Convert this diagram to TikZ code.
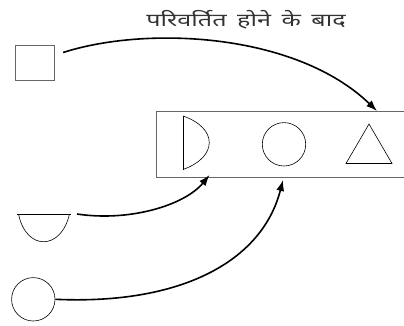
\documentclass[tikz,border=0pt]{standalone}
\usepackage{fontspec}
\newfontfamily\deva[Script=Devanagari,WordSpace=1.6]{Noto Sans}
\usetikzlibrary{arrows.meta}
\tikzset{
  grayline/.style={draw=black!60, line width=0.9pt},
  shapeline/.style={draw=black, line width=0.6pt},
  conn/.style={draw=black, line width=1.6pt, -{Latex[length=11pt,width=8pt]}},
}
\begin{document}
\begin{tikzpicture}[x=1pt,y=-1pt]
\clip (0,0) rectangle (404,325);
% label
\node[inner sep=0pt, font=\deva\fontsize{18}{20}\selectfont, text=black!80] (lbl) at (246,20) {\scalebox{1.4}[1]{परिवर्तित होने के बाद}};
% left shapes
\node[grayline, minimum width=39pt, minimum height=35pt, inner sep=0pt] (sq) at (34.7,62.5) {};
\node[shapeline, circle, minimum size=43.4pt, inner sep=0pt] (c1) at (33.3,299.3) {};
\coordinate (bowl) at (44,214);
\draw[shapeline] (17,214) -- (71,214);
\draw[shapeline] (18.5,214) .. controls (26,251) and (61,251) .. (69.5,214);
% box
\node[grayline, minimum width=260pt, minimum height=66.3pt, inner sep=0pt, anchor=north west] (box) at (155.5,110.7) {};
\draw[shapeline] (183,116) -- (183,169.5);
\draw[shapeline] (183,116) .. controls (218,128) and (218,157) .. (183,169.5);
\node[shapeline, circle, minimum size=43.4pt, inner sep=0pt] (c2) at (284,144.3) {};
\draw[shapeline] (369,124) -- (392,163.5) -- (346,163.5) -- cycle;
% connector endpoints
\coordinate (s1) at ([xshift=8.5pt,yshift=10pt]sq.east);
\coordinate (s2) at ([xshift=6pt]bowl -| 71,0);
\coordinate (t1) at (377,111);
\coordinate (t2) at (209.5,175);
\coordinate (t3) at (283,180);
% connectors
\draw[conn] (s1) .. controls (145,26) and (295,32) .. (t1);
\draw[conn] (s2) .. controls (130,222) and (185,205) .. (t2);
\draw[conn] (c1.east) .. controls (180,305) and (262,262) .. (t3);
\end{tikzpicture}
\end{document}
